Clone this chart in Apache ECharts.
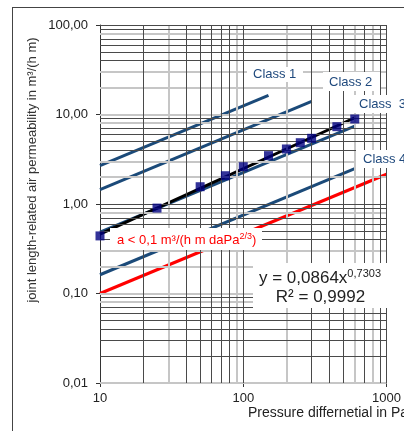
<!DOCTYPE html>
<html><head><meta charset="utf-8">
<script src="https://cdn.jsdelivr.net/npm/echarts@6/dist/echarts.min.js"></script>
<style>html,body{margin:0;padding:0;background:#fff}#c{width:404px;height:431px}</style>
</head><body><div id="c"></div>
<script>
// ---- data ----
const pressure = [10, 25, 50, 75, 100, 150, 200, 250, 300, 450, 600];
const measured = [0.44, 0.90, 1.56, 2.07, 2.61, 3.47, 4.12, 4.84, 5.42, 7.31, 8.91];
const trendX = [10, 600];
const trendY = [0.46, 9.2];
const class1X = [10, 150];  const class1Y = [2.69, 16.4];
const class2X = [10, 300];  const class2Y = [1.45, 14.0];
const class3X = [10, 600];  const class3Y = [0.485, 7.43];
const class4X = [10, 600];  const class4Y = [0.162, 2.48];
const limitX = [10, 1000];  const limitY = [0.1, 2.15];
const xGridDark = [20, 40, 50, 60, 70, 80, 100, 300, 400, 500, 700, 900, 1000];
const xGridGrey = [30, 90, 200, 600, 800];
const yGridDark = [0.02, 0.03, 0.04, 0.05, 0.06, 0.07, 0.09, 0.4, 0.5, 0.6, 0.7, 0.9, 1, 4, 5, 6, 7, 9, 40, 50, 60, 70, 90, 100];
const yGridGrey = [0.01, 0.08, 0.1, 0.2, 0.3, 0.8, 2, 3, 8, 10, 20, 30, 80];
const classLabels = ['Class 1', 'Class 2', 'Class  3', 'Class 4'];
const limitLabel = ['a < 0,1 m³/(h m daPa', '2/3', ')'];
const eqLine1 = ['y = 0,0864x', '0,7303'];
const eqLine2 = 'R² = 0,9992';
const xTitle = 'Pressure differnetial in Pa';
const yTitle = 'joint length-related air permeability in m³/(h m)';

const zip = (a, b) => a.map((v, i) => [v, b[i]]);
const FONT = 'Liberation Sans, Arial, sans-serif';
const classColor = '#1b4a79';
const classText = '#1f497d';

function gridSeries(xs, ys, color, width) {
  return {
    type: 'line', data: [], z: 1, silent: true,
    markLine: {
      silent: true, symbol: ['none', 'none'], animation: false,
      label: { show: false },
      lineStyle: { color: color, width: width, type: 'solid' },
      emphasis: { disabled: true },
      data: xs.map(v => ({ xAxis: v })).concat(ys.map(v => ({ yAxis: v })))
    }
  };
}
function lineSeries(xs, ys, color) {
  return { type: 'line', data: zip(xs, ys), showSymbol: false, symbol: 'none', z: 3,
    lineStyle: { color: color, width: 3 }, silent: true };
}
function box(x, y, w, h) {
  return { type: 'rect', z: 100, shape: { x, y, width: w, height: h }, style: { fill: '#fff' }, silent: true };
}
function txt(x, y, text, opts) {
  return Object.assign({ type: 'text', z: 101, x, y, silent: true,
    style: Object.assign({ text, font: '13px ' + FONT, fill: classText, align: 'left', verticalAlign: 'middle' }, opts || {}) });
}

const chart = echarts.init(document.getElementById('c'), null, { renderer: 'canvas' });
chart.setOption({
  animation: false,
  backgroundColor: '#fff',
  grid: { left: 100, right: 15, top: 25, bottom: 48, containLabel: false },
  xAxis: {
    type: 'log', logBase: 10, min: 10, max: 1000,
    splitLine: { show: false }, minorSplitLine: { show: false },
    axisLine: { show: true, lineStyle: { color: '#333', width: 1 } },
    axisTick: { show: true, length: 4, lineStyle: { color: '#333' } },
    axisLabel: { color: '#222', fontSize: 13, fontFamily: FONT, margin: 9, formatter: v => String(Math.round(v)) }
  },
  yAxis: {
    type: 'log', logBase: 10, min: 0.01, max: 100,
    splitLine: { show: false }, minorSplitLine: { show: false },
    axisLine: { show: true, lineStyle: { color: '#333', width: 1 } },
    axisTick: { show: true, length: 4, lineStyle: { color: '#333' } },
    axisLabel: { color: '#222', fontSize: 13, fontFamily: FONT, margin: 12,
      formatter: v => Number(v).toFixed(2).replace('.', ',') }
  },
  series: [
    gridSeries(xGridGrey, yGridGrey, '#c6c6c6', 2),
    gridSeries(xGridDark, yGridDark, '#4a4a4a', 1),
    lineSeries(class1X, class1Y, classColor),
    lineSeries(class2X, class2Y, classColor),
    lineSeries(class3X, class3Y, classColor),
    lineSeries(class4X, class4Y, classColor),
    lineSeries(limitX, limitY, '#ff0000'),
    Object.assign(lineSeries(trendX, trendY, '#000'), { z: 4 }),
    { type: 'scatter', data: zip(pressure, measured), symbol: 'rect', symbolSize: 9, z: 5,
      itemStyle: { color: '#000080' }, silent: true }
  ],
  graphic: [
    { type: 'line', z: 100, shape: { x1: 12, y1: 7.5, x2: 404, y2: 7.5 }, style: { stroke: '#444', lineWidth: 1 } },
    { type: 'line', z: 100, shape: { x1: 12.5, y1: 7, x2: 12.5, y2: 431 }, style: { stroke: '#444', lineWidth: 1 } },
    box(247, 67, 56, 15), txt(253, 74.5, classLabels[0]),
    box(323, 72, 57, 19), txt(329, 82, classLabels[1]),
    box(352, 95, 60, 18), txt(359, 104.5, classLabels[2]),
    box(356, 150, 60, 18), txt(363, 159.5, classLabels[3]),
    box(110, 228, 152, 22),
    txt(117, 240, '{a|' + limitLabel[0] + '}{s|' + limitLabel[1] + '}{a|' + limitLabel[2] + '}', {
      fill: '#ff0000',
      rich: {
        a: { fontSize: 13, fontFamily: FONT, fill: '#ff0000', lineHeight: 16 },
        s: { fontSize: 9, fontFamily: FONT, fill: '#ff0000', lineHeight: 16, verticalAlign: 'top' }
      }
    }),
    box(253, 263, 135, 45),
    txt(320, 278, '{m|' + eqLine1[0] + '}{s|' + eqLine1[1] + '}', {
      align: 'center', fill: '#222',
      rich: {
        m: { fontSize: 17, fontFamily: FONT, fill: '#222', lineHeight: 20 },
        s: { fontSize: 11, fontFamily: FONT, fill: '#222', lineHeight: 20, verticalAlign: 'top' }
      }
    }),
    txt(320.5, 297, eqLine2, { align: 'center', fill: '#222', font: '17px ' + FONT }),
    txt(248, 413, xTitle, { fill: '#222', font: '14px ' + FONT }),
    Object.assign(txt(32, 170, yTitle, { align: 'center', fill: '#333', font: '13px ' + FONT }), { rotation: Math.PI / 2 })
  ]
});
</script></body></html>
